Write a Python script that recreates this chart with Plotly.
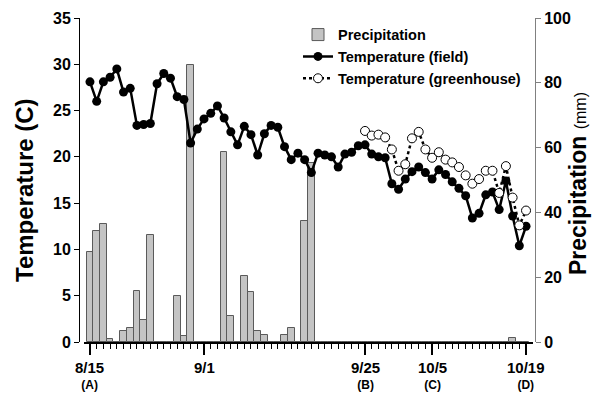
import pandas as pd
import plotly.graph_objects as go

# ---- data ----
start = "2011-08-15"
dates = [d.strftime("%Y-%m-%d") for d in pd.date_range(start, periods=66, freq="D")]

precip_mm = [27.8, 34.3, 36.3, 0.8, 0, 3.3, 4.3, 15.8, 6.8, 32.9,
             0, 0, 0, 14.2, 2.0, 85.5, 0, 0, 0, 0,
             58.7, 8.0, 0, 20.3, 15.3, 3.3, 2.3, 0, 0, 2.3,
             4.3, 0, 37.2, 55.2, 0, 0, 0, 0, 0, 0,
             0, 0, 0, 0, 0, 0, 0, 0, 0, 0,
             0, 0, 0, 0, 0, 0, 0, 0, 0, 0,
             0, 0, 0, 1.3, 0, 0]

temp_field = [28.1, 26.0, 28.1, 28.6, 29.5, 27.0, 27.4, 23.4, 23.5, 23.6,
              27.9, 29.0, 28.5, 26.5, 26.2, 21.5, 23.0, 24.1, 24.7, 25.5,
              24.2, 22.7, 21.3, 23.3, 22.4, 20.2, 22.5, 23.4, 23.2, 21.1,
              19.7, 20.4, 19.7, 18.3, 20.4, 20.2, 20.0, 18.9, 20.3, 20.5,
              21.2, 21.3, 20.3, 20.0, 19.9, 17.1, 16.5, 17.6, 18.4, 18.9,
              18.3, 17.6, 18.6, 18.1, 17.3, 16.6, 15.8, 13.4, 13.9, 15.9,
              16.2, 14.3, 17.4, 13.6, 10.4, 12.5]

gh_dates = dates[41:]
temp_greenhouse = [22.8, 22.3, 22.4, 22.1, 20.8, 18.5, 19.2, 22.0, 22.7, 20.8,
                   19.9, 20.5, 19.7, 19.4, 18.9, 18.0, 17.1, 17.6, 18.5, 18.5,
                   16.1, 19.0, 15.6, 12.6, 14.2]

tick_dates = ["2011-08-15", "2011-09-01", "2011-09-25", "2011-10-05", "2011-10-19"]
tick_main = ["8/15", "9/1", "9/25", "10/5", "10/19"]
tick_sub = ["(A)", "", "(B)", "(C)", "(D)"]

FONT = "Arial, Liberation Sans, sans-serif"

fig = go.Figure()

fig.add_trace(go.Bar(
    x=dates, y=precip_mm, name="Precipitation",
    marker=dict(color="#c4c4c4", line=dict(color="#5a5a5a", width=1)),
    width=86400000, yaxis="y", xaxis="x",
))
fig.add_trace(go.Scatter(
    x=dates, y=temp_field, name="Temperature (field)", mode="lines+markers",
    line=dict(color="black", width=2.5),
    marker=dict(symbol="circle", size=9, color="black"),
    yaxis="y2",
))
fig.add_trace(go.Scatter(
    x=gh_dates, y=temp_greenhouse, name="Temperature (greenhouse)", mode="lines+markers",
    line=dict(color="black", width=2.5, dash="dot"),
    marker=dict(symbol="circle", size=9, color="white", line=dict(color="black", width=1)),
    yaxis="y2",
))

# x tick labels: one text block per major tick, placed on the date axis
for d, m, s in zip(tick_dates, tick_main, tick_sub):
    txt = f"<span style='font-size:15px'><b>{m}</b></span>"
    if s:
        txt += f"<br><span style='font-size:12px'><b>{s}</b></span>"
    fig.add_annotation(x=d, xref="x", y=0, yref="paper", text=txt,
                       showarrow=False, yanchor="top", yshift=-16, borderpad=0,
                       font=dict(size=12, family=FONT, color="black"))

L, R = 79, 57
W = 592 - L - R
H = 394 - 18 - 52

# axis titles
fig.add_annotation(x=(24 - L) / W, xref="paper", y=(342 - 190) / H, yref="paper",
                   text="<b>Temperature (C)</b>", textangle=-90, showarrow=False,
                   xanchor="center", yanchor="middle",
                   font=dict(size=24, family=FONT, color="black"))
fig.add_annotation(x=(578 - L) / W, xref="paper", y=(342 - 184) / H, yref="paper",
                   text="<b>Precipitation</b> <span style='font-size:16px'>(mm)</span>",
                   textangle=-90, showarrow=False, xanchor="center", yanchor="middle",
                   font=dict(size=23, family=FONT, color="black"))

x0 = pd.Timestamp(start) - pd.Timedelta(hours=0.89 * 24)
x1 = pd.Timestamp(start) + pd.Timedelta(hours=66.04 * 24)

fig.update_layout(
    width=592, height=394,
    margin=dict(l=L, r=R, t=18, b=52),
    plot_bgcolor="white", paper_bgcolor="white",
    bargap=0, showlegend=True,
    font=dict(family=FONT, color="black"),
    legend=dict(
        x=(298 - L) / W, y=0.998, xanchor="left", yanchor="top",
        bgcolor="rgba(0,0,0,0)", font=dict(size=14.5, weight="bold", family=FONT),
        tracegroupgap=0, itemwidth=30,
    ),
    xaxis=dict(
        type="date", range=[x0, x1], automargin=False,
        domain=[(84 - L) / W, (533 - L) / W],
        showgrid=False, zeroline=False,
        showline=True, linecolor="black", linewidth=2,
        tickmode="array", tickvals=tick_dates, showticklabels=False,
        ticks="outside", ticklen=11, tickwidth=2, tickcolor="black",
        minor=dict(ticks="outside", ticklen=5, tickwidth=1, tickcolor="black",
                   tickmode="array", tickvals=dates, showgrid=False),
        anchor="y",
    ),
    yaxis=dict(
        range=[0, 100], dtick=20, side="right", anchor="free", position=1,
        automargin=False,
        showgrid=False, zeroline=False,
        showline=True, linecolor="#808080", linewidth=1,
        ticks="outside", ticklen=5, tickcolor="#808080",
        tickfont=dict(size=16, weight="bold", family=FONT),
    ),
    yaxis2=dict(
        range=[0, 35], dtick=5, side="left", anchor="free", position=0,
        overlaying="y", automargin=False,
        showgrid=False, zeroline=False,
        showline=True, linecolor="black", linewidth=1,
        ticks="outside", ticklen=5, tickcolor="black",
        tickfont=dict(size=16, weight="bold", family=FONT),
    ),
)

fig.write_html("out.html", config={"displayModeBar": False},
               post_script="document.body.style.margin='0';document.body.style.overflow='hidden';")
